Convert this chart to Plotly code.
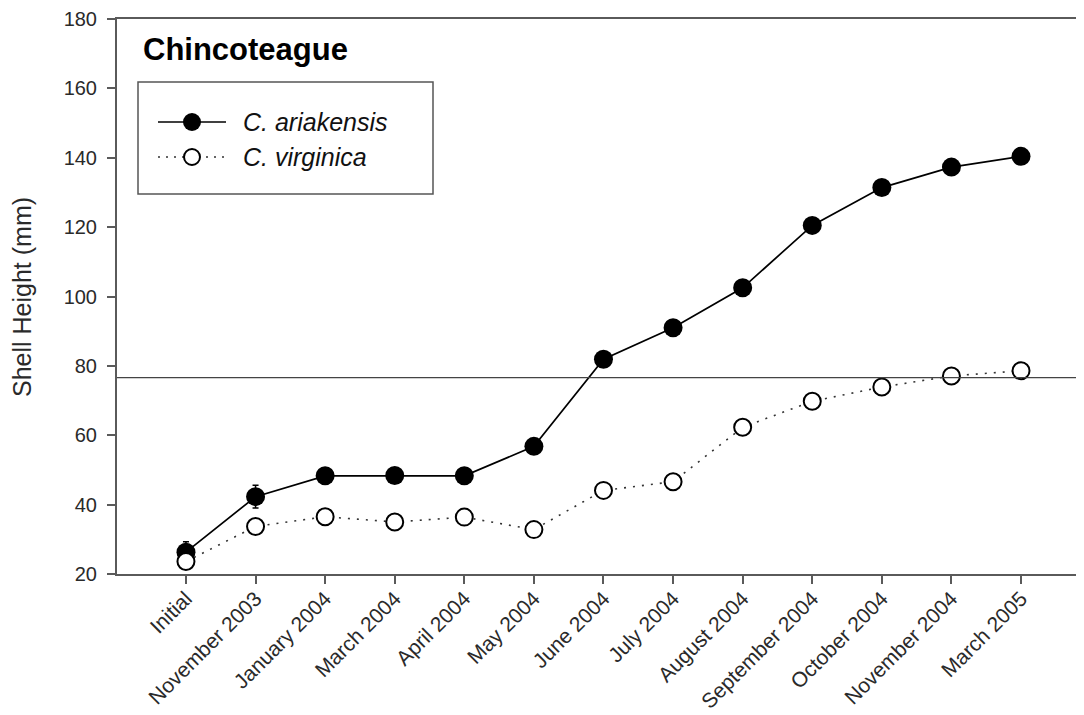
import plotly.graph_objects as go

categories = ["Initial", "November 2003", "January 2004", "March 2004", "April 2004",
              "May 2004", "June 2004", "July 2004", "August 2004", "September 2004",
              "October 2004", "November 2004", "March 2005"]
ariakensis = [26.3, 42.3, 48.3, 48.4, 48.3, 56.8, 81.9, 91.0, 102.5, 120.5, 131.4, 137.3, 140.4]
ariakensis_err = [3.0, 3.3, 1.5, 1.5, 1.5, 1.5, 1.5, 1.5, 1.5, 1.5, 1.5, 1.5, 1.5]
virginica = [23.6, 33.7, 36.5, 35.0, 36.4, 32.8, 44.1, 46.6, 62.3, 69.8, 73.9, 77.1, 78.6]
ref_line = 76.6
y_ticks = [20, 40, 60, 80, 100, 120, 140, 160, 180]
series_names = ["C. ariakensis", "C. virginica"]
site_title = "Chincoteague"
y_title = "Shell Height (mm)"

x_idx = list(range(len(categories)))

# layout geometry (figure pixels)
W, H = 1084, 715
ML, MT, MB, MR = 109, 11, 149, 0
PW, PH = W - ML - MR, H - MT - MB


def px(x):
    return (x - ML) / PW


def py(y):
    return 1 - (y - MT) / PH


AX = "#5a5a5a"
TXT = "#2a2a2a"

fig = go.Figure()
fig.add_trace(go.Scatter(
    x=x_idx, y=ariakensis, mode="lines+markers", name=series_names[0],
    line=dict(color="black", width=1.7),
    marker=dict(symbol="circle", size=19, color="black"),
    error_y=dict(type="data", array=ariakensis_err, visible=True, color="black",
                 thickness=1.5, width=3),
))
fig.add_trace(go.Scatter(
    x=x_idx, y=virginica, mode="lines+markers", name=series_names[1],
    line=dict(color="#333333", width=1.6, dash="2px,7px"),
    marker=dict(symbol="circle", size=17, color="white", line=dict(color="black", width=2)),
))

shapes = []
annotations = []
# reference line across the plot
shapes.append(dict(type="line", xref="paper", yref="y", x0=0, x1=1, y0=ref_line, y1=ref_line,
                   line=dict(color="#444444", width=1.4), layer="above"))
# legend box
shapes.append(dict(type="rect", xref="paper", yref="paper",
                   x0=px(130), x1=px(425), y0=py(186), y1=py(74),
                   line=dict(color="#555555", width=1.5), fillcolor="white", layer="above"))
rows = [114, 149]
styles = [dict(lc="black", dash="solid", fill="black", r=9, lw=0),
          dict(lc="#333333", dash="2px,6px", fill="white", r=8, lw=2)]
for name, ry, st in zip(series_names, rows, styles):
    shapes.append(dict(type="line", xref="paper", yref="paper",
                       x0=px(150), x1=px(218), y0=py(ry), y1=py(ry),
                       line=dict(color=st["lc"], width=1.7, dash=st["dash"]), layer="above"))
    shapes.append(dict(type="circle", xref="paper", yref="paper",
                       xsizemode="pixel", ysizemode="pixel",
                       xanchor=px(184), yanchor=py(ry),
                       x0=-st["r"], x1=st["r"], y0=-st["r"], y1=st["r"],
                       fillcolor=st["fill"], line=dict(color="black", width=st["lw"]),
                       layer="above"))
    annotations.append(dict(text="<i>" + name + "</i>", xref="paper", yref="paper",
                            x=px(233), y=py(ry), xanchor="left", yanchor="middle",
                            showarrow=False, font=dict(size=25, color="#111111")))

annotations.append(dict(text="<b>" + site_title + "</b>", xref="paper", yref="paper",
                        x=px(133), y=py(42), xanchor="left", yanchor="middle", showarrow=False,
                        font=dict(size=31, color="black")))
annotations.append(dict(text=y_title, xref="paper", yref="paper", textangle=-90,
                        x=px(14), y=py(289), xanchor="center", yanchor="middle", showarrow=False,
                        font=dict(size=25, color=TXT)))

fig.update_layout(
    width=W, height=H,
    margin=dict(l=ML, r=MR, t=MT, b=MB, autoexpand=False),
    plot_bgcolor="white", paper_bgcolor="white",
    font=dict(family="Liberation Sans, Arial, sans-serif", color=TXT, size=16),
    showlegend=False,
    shapes=shapes,
    annotations=annotations,
)
fig.update_xaxes(
    range=[-0.991, 13.02], tickmode="array", tickvals=x_idx, ticktext=categories,
    tickangle=-45, ticks="outside", ticklen=8, tickwidth=1.5, tickcolor=AX,
    showline=True, linecolor=AX, linewidth=2, mirror=True, automargin=False,
    showgrid=False, zeroline=False, tickfont=dict(size=21, color=TXT),
    ticklabelstandoff=-6, ticklabeloverflow="allow",
)
fig.update_yaxes(
    range=[20, 180], tickmode="array", tickvals=y_ticks,
    ticks="outside", ticklen=8, tickwidth=1.5, tickcolor=AX,
    showline=True, linecolor=AX, linewidth=2, automargin=False,
    showgrid=False, zeroline=False, tickfont=dict(size=20, color=TXT),
    ticklabelstandoff=6, ticklabeloverflow="allow",
)

fig.write_html("out.html")
